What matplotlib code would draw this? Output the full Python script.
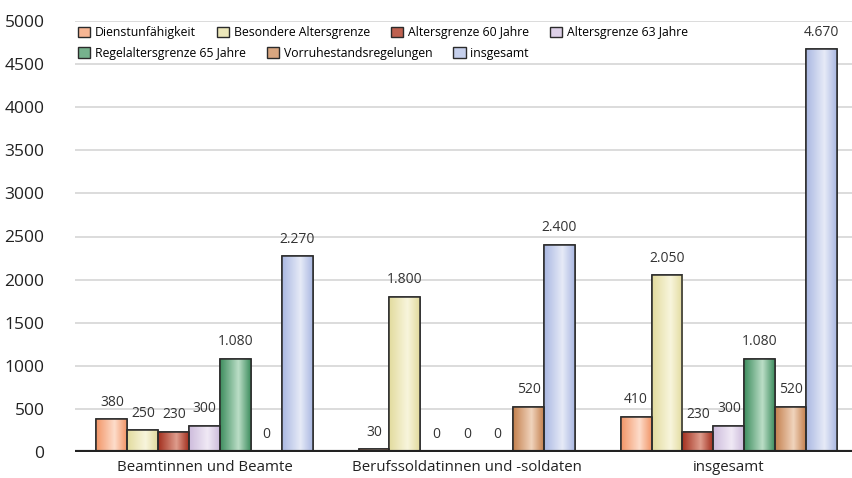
import numpy as np
import matplotlib
matplotlib.use("Agg")
import matplotlib.pyplot as plt
from matplotlib.colors import LinearSegmentedColormap, to_rgb

plt.rcParams["font.family"] = ["Open Sans", "DejaVu Sans"]

categories = ["Beamtinnen und Beamte", "Berufssoldatinnen und -soldaten", "insgesamt"]
series = ["Dienstunfähigkeit", "Besondere Altersgrenze", "Altersgrenze 60 Jahre",
          "Altersgrenze 63 Jahre", "Regelaltersgrenze 65 Jahre",
          "Vorruhestandsregelungen", "insgesamt"]

dienstunf = [380, 30, 410]
besondere = [250, 1800, 2050]
ag60 = [230, 0, 230]
ag63 = [300, 0, 300]
regel65 = [1080, 0, 1080]
vorruhe = [0, 520, 520]
gesamt = [2270, 2400, 4670]
values = [dienstunf, besondere, ag60, ag63, regel65, vorruhe, gesamt]

# (dark edge colour, light highlight)
colors = [("#F29668", "#FDDCCA"), ("#E2DB9E", "#F8F5DC"), ("#A3301F", "#DE9C8C"),
          ("#CDBCDC", "#F0E9F5"), ("#3F8E5F", "#BADDC6"), ("#C4814F", "#F0D3BC"),
          ("#AAB8E2", "#E6EAF7")]

fig = plt.figure(figsize=(8.52, 4.78), dpi=100)
ax = fig.add_axes([75 / 852, 26 / 478, 777 / 852, 431 / 478])

n = len(series)
w = 0.118
x = np.arange(len(categories))

ax.set_xlim(-0.495, 2.47)
ax.set_ylim(0, 5000)

grad = np.linspace(0, 1, 64)
prof = np.interp(grad, [0, 0.6, 1], [0.0, 1.0, 0.0]).reshape(1, -1)

handles = []
for i, (name, vals) in enumerate(zip(series, values)):
    pos = x + (i - (n - 1) / 2) * w
    c0, c1 = colors[i]
    cmap = LinearSegmentedColormap.from_list(name, [c0, c1])
    bars = ax.bar(pos, vals, width=w, color=c0, edgecolor="#2b2b2b",
                  linewidth=1.1, zorder=3)
    mid = tuple(0.55 * a + 0.45 * b for a, b in zip(to_rgb(c0), to_rgb(c1)))
    handles.append(plt.Rectangle((0, 0), 1, 1, facecolor=mid,
                                 edgecolor="#2b2b2b", linewidth=1.0))
    for b, v in zip(bars, vals):
        if v > 0:
            im = ax.imshow(prof, cmap=cmap, aspect="auto", zorder=3.5,
                           extent=[b.get_x(), b.get_x() + b.get_width(), 0, b.get_height()])
            im.set_clip_path(b)
            ax.bar(b.get_x() + b.get_width() / 2, v, width=w, fill=False,
                   edgecolor="#2b2b2b", linewidth=1.1, zorder=4)
        txt = f"{v:,}".replace(",", ".")
        ax.annotate(txt, (b.get_x() + b.get_width() / 2, v), xytext=(0, 7),
                    textcoords="offset points", ha="center", va="bottom",
                    fontsize=10, color="#333333", zorder=5)

ax.set_yticks(np.arange(0, 5001, 500))
ax.yaxis.grid(True, color="#d6d6d6", linewidth=1.2, zorder=0)
ax.set_axisbelow(True)
ax.axhline(0, color="#222222", linewidth=3, zorder=6)
for s in ax.spines.values():
    s.set_visible(False)
ax.set_xticks(x)
ax.set_xticklabels(categories, fontsize=10.8, color="#222222")
ax.tick_params(axis="x", length=0, pad=6)
ax.tick_params(axis="y", length=0, pad=22, labelsize=12.5, labelcolor="#222222")

leg_kw = dict(loc="upper left", frameon=True, fontsize=8.8,
              handlelength=1.0, handleheight=1.0, handletextpad=0.4,
              columnspacing=1.7, borderpad=0.25, borderaxespad=0.0)
leg1 = ax.legend(handles[:4], series[:4], ncol=4,
                 bbox_to_anchor=(0.0, 0.995), **leg_kw)
leg1.get_frame().set_edgecolor("none")
leg1.get_frame().set_boxstyle("square", pad=0)
leg1.set_zorder(7)
ax.add_artist(leg1)
leg2 = ax.legend(handles[4:], series[4:], ncol=3,
                 bbox_to_anchor=(0.0, 0.947), **leg_kw)
leg2.get_frame().set_edgecolor("none")
leg2.get_frame().set_boxstyle("square", pad=0)
leg2.set_zorder(7)

fig.savefig("out.png", dpi=100)
